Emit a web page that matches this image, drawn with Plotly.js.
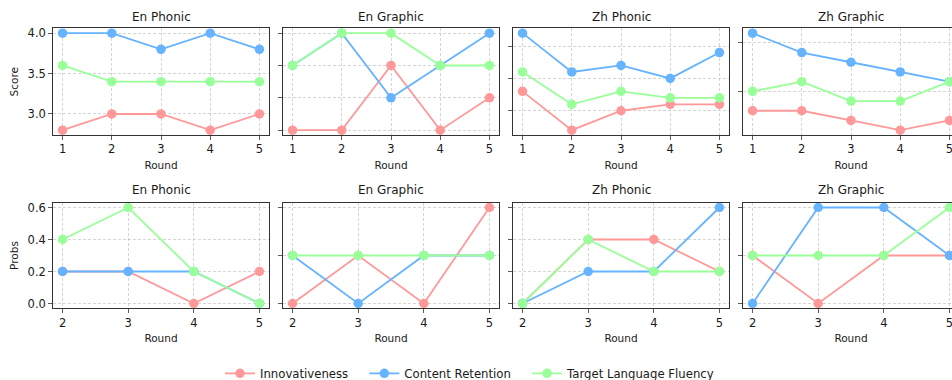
<!DOCTYPE html>
<html>
<head>
<meta charset="utf-8">
<script src="https://cdn.plot.ly/plotly-3.0.1.min.js"></script>
<style>
html, body { margin: 0; padding: 0; background: #fff; width: 952px; height: 380px; overflow: hidden; }
#wrap { width: 952px; height: 380px; overflow: hidden; position: relative; }
#chart { width: 980px; height: 380px; position: absolute; left: 0; top: 0; }
</style>
</head>
<body>
<div id="wrap"><div id="chart"></div></div>
<script>
// ---------- data ----------
const roundsScore = [1, 2, 3, 4, 5];
const roundsProbs = [2, 3, 4, 5];
const panelTitles = ["En Phonic", "En Graphic", "Zh Phonic", "Zh Graphic"];
const seriesNames = ["Innovativeness", "Content Retention", "Target Language Fluency"];
const seriesColors = ["#ff9999", "#66b3ff", "#99ff99"];

// Score (top row)
const scoreEnPhonicInnov   = [2.8, 3.0, 3.0, 2.8, 3.0];
const scoreEnPhonicContent = [4.0, 4.0, 3.8, 4.0, 3.8];
const scoreEnPhonicFluency = [3.6, 3.4, 3.4, 3.4, 3.4];

const scoreEnGraphicInnov   = [2.8, 2.8, 3.6, 2.8, 3.2];
const scoreEnGraphicContent = [3.6, 4.0, 3.2, 3.6, 4.0];
const scoreEnGraphicFluency = [3.6, 4.0, 4.0, 3.6, 3.6];

const scoreZhPhonicInnov   = [3.4, 3.1, 3.25, 3.3, 3.3];
const scoreZhPhonicContent = [3.85, 3.55, 3.6, 3.5, 3.7];
const scoreZhPhonicFluency = [3.55, 3.3, 3.4, 3.35, 3.35];

const scoreZhGraphicInnov   = [3.3, 3.3, 3.2, 3.1, 3.2];
const scoreZhGraphicContent = [4.1, 3.9, 3.8, 3.7, 3.6];
const scoreZhGraphicFluency = [3.5, 3.6, 3.4, 3.4, 3.6];

// Probs (bottom row)
const probsEnPhonicInnov   = [0.2, 0.2, 0.0, 0.2];
const probsEnPhonicContent = [0.2, 0.2, 0.2, 0.0];
const probsEnPhonicFluency = [0.4, 0.6, 0.2, 0.0];

const probsEnGraphicInnov   = [0.0, 0.3, 0.0, 0.6];
const probsEnGraphicContent = [0.3, 0.0, 0.3, 0.3];
const probsEnGraphicFluency = [0.3, 0.3, 0.3, 0.3];

const probsZhPhonicInnov   = [0.0, 0.4, 0.4, 0.2];
const probsZhPhonicContent = [0.0, 0.2, 0.2, 0.6];
const probsZhPhonicFluency = [0.0, 0.4, 0.2, 0.2];

const probsZhGraphicInnov   = [0.3, 0.0, 0.3, 0.3];
const probsZhGraphicContent = [0.0, 0.6, 0.6, 0.3];
const probsZhGraphicFluency = [0.3, 0.3, 0.3, 0.6];

const scoreDticks = [0.5, 0.4, 0.25, 0.5];
const probsDticks = [0.2, 0.3, 0.2, 0.3];

// ---------- layout helpers ----------
const W = 980, H = 380;
const FONT = "DejaVu Sans";
const TXT = "#1a1a1a";
const panelLeft = [52.7, 282.7, 512.7, 742.7];
const panelWidth = 216.6;
const rowTop = [28.3, 202.7];
const rowBottom = [135, 308.3];
const legendPad = "\u00A0\u00A0\u00A0";

const topRows = [
  [scoreEnPhonicInnov, scoreEnPhonicContent, scoreEnPhonicFluency],
  [scoreEnGraphicInnov, scoreEnGraphicContent, scoreEnGraphicFluency],
  [scoreZhPhonicInnov, scoreZhPhonicContent, scoreZhPhonicFluency],
  [scoreZhGraphicInnov, scoreZhGraphicContent, scoreZhGraphicFluency]
];
const bottomRows = [
  [probsEnPhonicInnov, probsEnPhonicContent, probsEnPhonicFluency],
  [probsEnGraphicInnov, probsEnGraphicContent, probsEnGraphicFluency],
  [probsZhPhonicInnov, probsZhPhonicContent, probsZhPhonicFluency],
  [probsZhGraphicInnov, probsZhGraphicContent, probsZhGraphicFluency]
];

function padRange(arrs) {
  const all = [].concat(...arrs);
  const lo = Math.min(...all), hi = Math.max(...all);
  const p = (hi - lo) * 0.05;
  return [lo - p, hi + p];
}

const traces = [];
const layout = {
  width: W, height: H,
  margin: {l: 0, r: 0, t: 0, b: 0, autoexpand: false},
  paper_bgcolor: "#fff", plot_bgcolor: "#fff",
  font: {family: FONT, size: 11.5, color: TXT},
  showlegend: true,
  legend: {
    orientation: "h", x: 220 / W, xanchor: "left", y: (H - 373.3) / H, yanchor: "middle",
    font: {family: FONT, size: 11.7, color: TXT}, bgcolor: "rgba(0,0,0,0)"
  },
  annotations: []
};

function axisBase() {
  return {
    showline: true, mirror: true, linecolor: "#333", linewidth: 1,
    ticks: "outside", ticklen: 3.5, tickwidth: 0.8, tickcolor: "#333",
    showgrid: true, gridcolor: "rgba(160,160,160,0.55)", griddash: "3px,2px", gridwidth: 0.8,
    zeroline: false, tickfont: {family: FONT, size: 11.5, color: TXT}
  };
}

for (let r = 0; r < 2; r++) {
  for (let c = 0; c < 4; c++) {
    const idx = r * 4 + c + 1;
    const xa = "xaxis" + (idx === 1 ? "" : idx);
    const ya = "yaxis" + (idx === 1 ? "" : idx);
    const xr = "x" + (idx === 1 ? "" : idx);
    const yr = "y" + (idx === 1 ? "" : idx);
    const rows = r === 0 ? topRows[c] : bottomRows[c];
    const xs = r === 0 ? roundsScore : roundsProbs;

    for (let s = 0; s < 3; s++) {
      traces.push({
        type: "scatter", mode: "lines+markers",
        x: xs, y: rows[s], xaxis: xr, yaxis: yr,
        name: seriesNames[s] + (s < 2 ? legendPad : ""), legendgroup: seriesNames[s],
        showlegend: idx === 1,
        line: {color: seriesColors[s], width: 1.8},
        marker: {color: seriesColors[s], size: 9.5},
        hoverinfo: "x+y+name"
      });
    }

    const x0 = panelLeft[c], x1 = panelLeft[c] + panelWidth;
    const xAxis = axisBase();
    xAxis.domain = [x0 / W, x1 / W];
    xAxis.anchor = yr;
    xAxis.range = r === 0 ? [0.8, 5.2] : [1.85, 5.15];
    xAxis.tickmode = "array";
    xAxis.tickvals = xs;
    xAxis.ticktext = xs.map(String);
    xAxis.title = {text: "Round", font: {family: FONT, size: 10.5, color: TXT}, standoff: 6};
    layout[xa] = xAxis;

    const yAxis = axisBase();
    yAxis.domain = [(H - rowBottom[r]) / H, (H - rowTop[r]) / H];
    yAxis.anchor = xr;
    yAxis.range = padRange(rows);
    yAxis.tick0 = 0;
    yAxis.dtick = r === 0 ? scoreDticks[c] : probsDticks[c];
    yAxis.tickformat = ".1f";
    if (c === 0) {
      yAxis.showticklabels = true;
      yAxis.title = {text: r === 0 ? "Score" : "Probs", font: {family: FONT, size: 10.5, color: TXT}, standoff: 6};
    } else {
      yAxis.showticklabels = false;
    }
    layout[ya] = yAxis;

    layout.annotations.push({
      text: panelTitles[c], xref: "paper", yref: "paper",
      x: (x0 + x1) / 2 / W, xanchor: "center",
      y: (H - (r === 0 ? 17 : 190.5)) / H, yanchor: "middle",
      showarrow: false, font: {family: FONT, size: 12, color: TXT}
    });
  }
}

Plotly.newPlot("chart", traces, layout, {staticPlot: true, displayModeBar: false});
</script>
</body>
</html>
